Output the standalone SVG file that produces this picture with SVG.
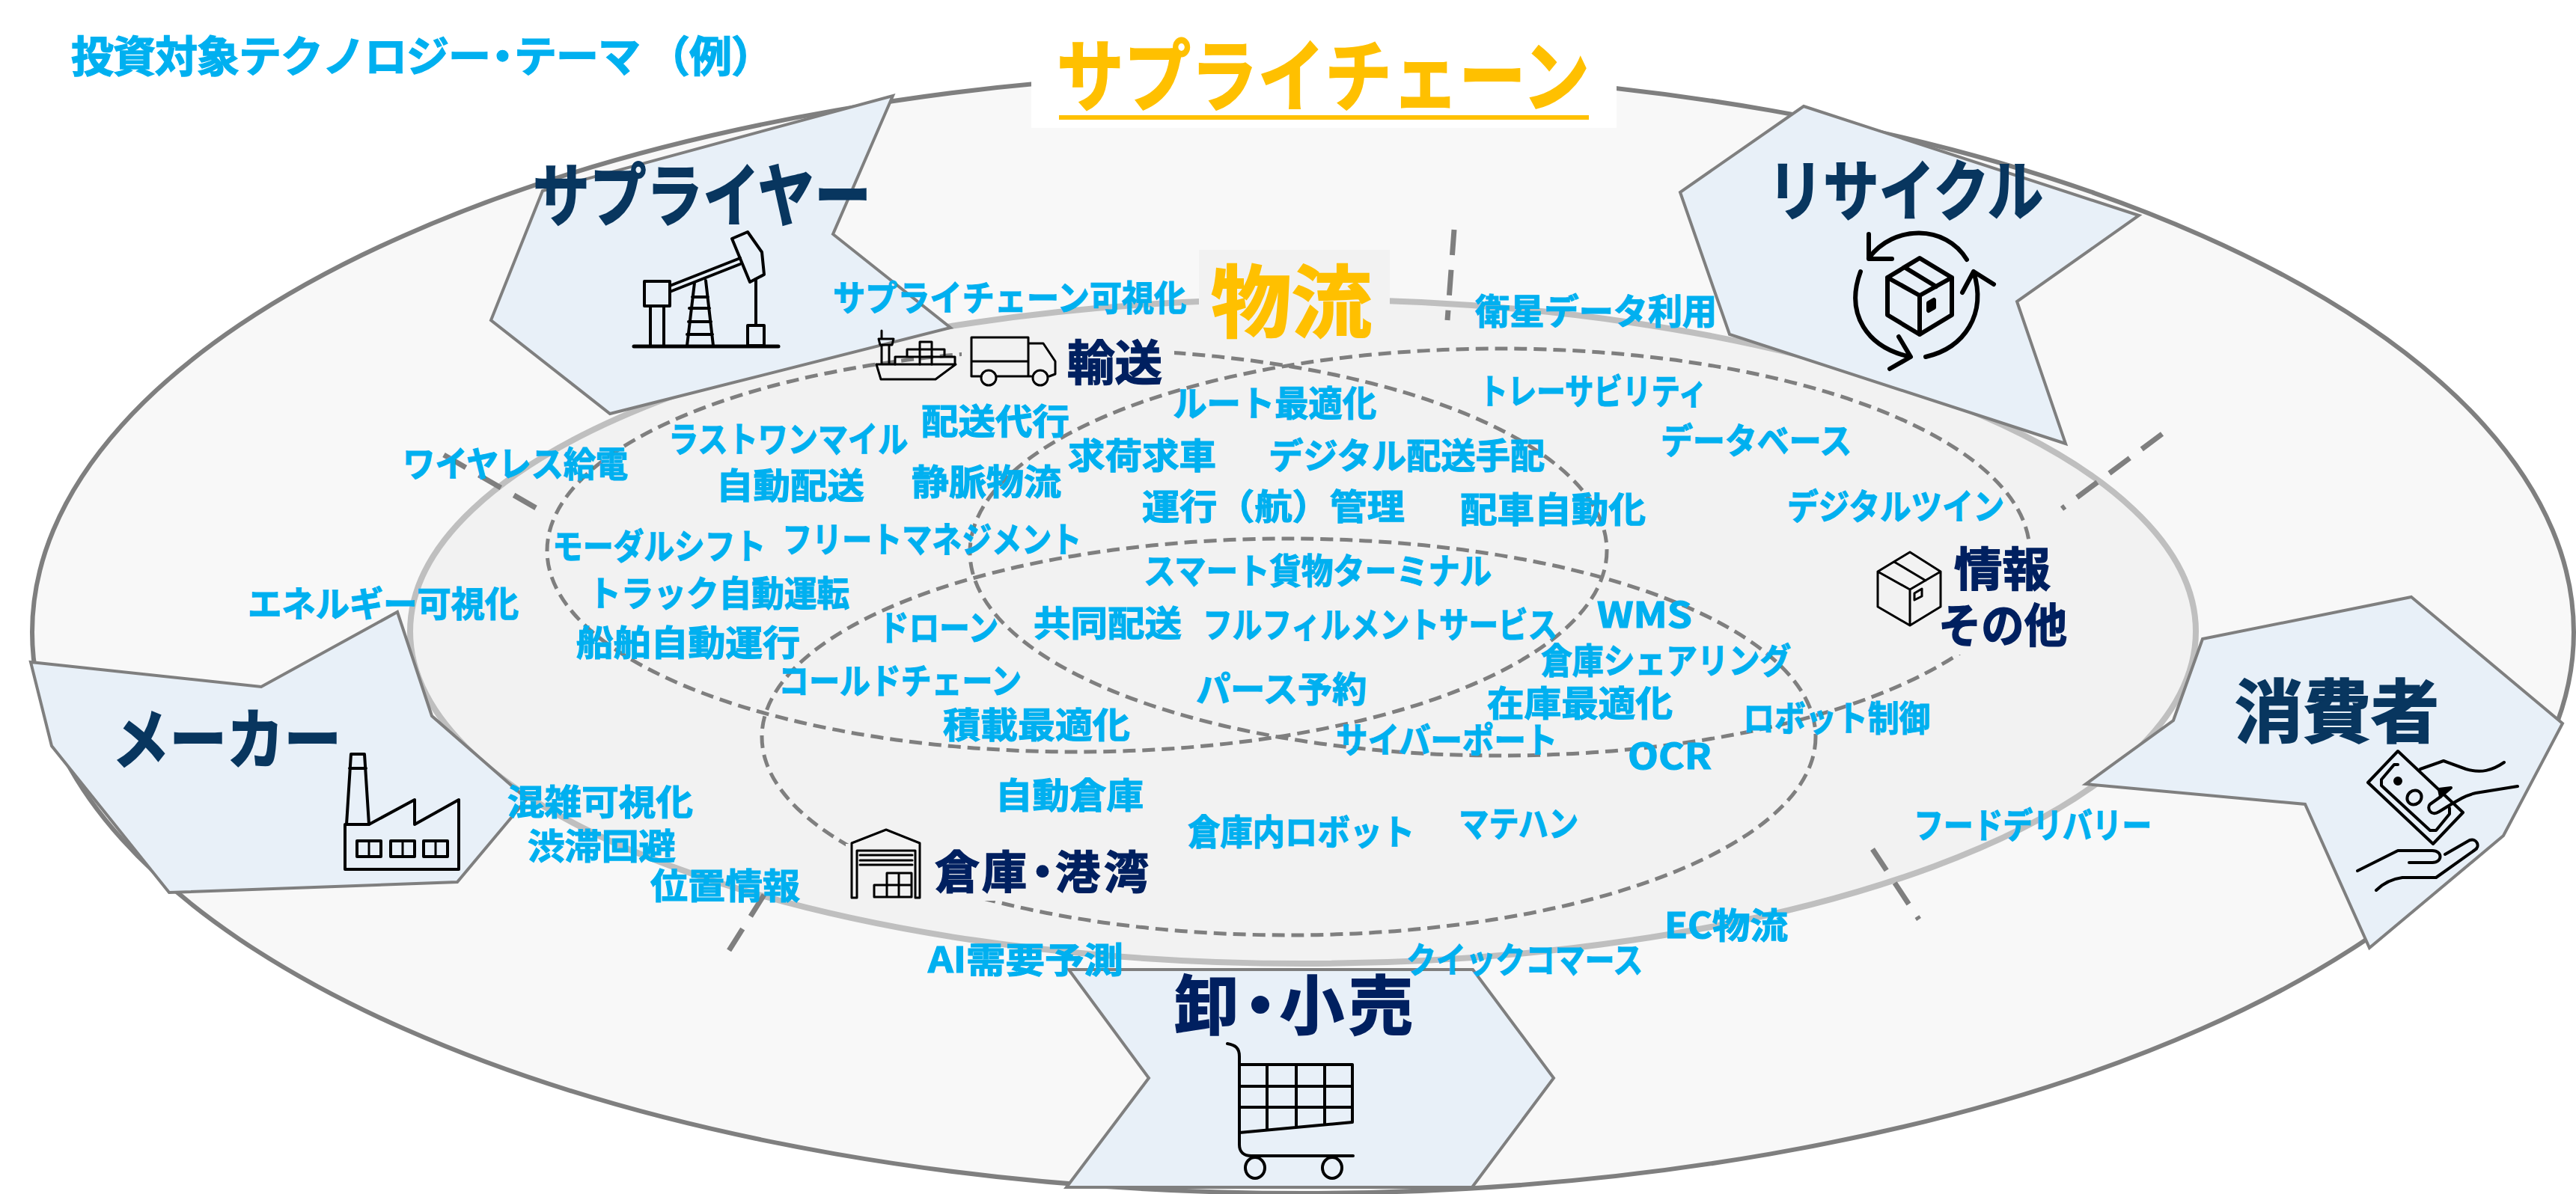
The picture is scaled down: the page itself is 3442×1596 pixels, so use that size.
<svg xmlns="http://www.w3.org/2000/svg" width="3442" height="1596" viewBox="0 0 3442 1596">
<style>
text{font-family:"Noto Sans CJK JP","Liberation Sans",sans-serif;font-weight:700}
.t{fill:#00b0f0;font-size:47px;stroke:#00b0f0;stroke-width:1.2px}
.h{fill:#08365f;font-size:88px;stroke:#08365f;stroke-width:2px}
.n{fill:#002060;font-size:62px;stroke:#002060;stroke-width:1.5px}
.y{fill:#ffc000;font-size:105px;stroke:#ffc000;stroke-width:2px}
.tab{fill:#e8f0f8;stroke:#7f7f7f;stroke-width:4;stroke-linejoin:miter}
.d{fill:none;stroke:#7f7f7f;stroke-width:5;stroke-dasharray:17 9}
.tick{fill:none;stroke:#7f7f7f;stroke-width:7;stroke-dasharray:34 20}
.i{fill:none;stroke:#000;stroke-width:4;stroke-linecap:round;stroke-linejoin:round}
.i2{fill:none;stroke:#000;stroke-width:6;stroke-linecap:round;stroke-linejoin:round}
</style>
<rect width="3442" height="1596" fill="#fff"/>
<ellipse id="outer" cx="1741" cy="845" rx="1698" ry="750" fill="#f8f8f8" stroke="#7f7f7f" stroke-width="6"/>
<ellipse id="inner" cx="1741" cy="844" rx="1193" ry="444" fill="#f2f2f2" stroke="#bfbfbf" stroke-width="8"/>
<rect id="title-bg" x="1378" y="44" width="782" height="127" fill="#fff"/>

<g id="node-supplier"><polygon class="tab" points="1193,128 1113,313 1270,438 815,553 656,428 725,255"/></g>
<g id="node-maker"><polygon class="tab" points="41,885 349,918 531,818 577,957 704,1068 611,1179 226,1193 69,997"/></g>
<g id="node-retail"><polygon class="tab" points="1428,1296 1968,1296 2076,1441 1967,1587 1425,1587 1535,1441"/></g>
<g id="node-recycle"><polygon class="tab" points="2410,142 2858,288 2695,403 2760,593 2311,447 2245,257"/></g>
<g id="node-consumer"><polygon class="tab" points="3222,798 3424,967 3345,1117 3166,1267 3080,1075 2787,1048 2904,963 2943,854"/></g>

<g id="zones">
<ellipse class="d" cx="1439" cy="736" rx="708" ry="269"/>
<ellipse class="d" cx="2004" cy="738" rx="708" ry="272"/>
<ellipse class="d" cx="1722" cy="985" rx="704" ry="265"/>
<rect x="1285" y="445" width="284" height="72" fill="#f2f2f2"/>
<rect x="2590" y="725" width="175" height="150" fill="#f2f2f2"/>
<rect x="1130" y="1128" width="412" height="76" fill="#f2f2f2"/>
<rect id="logistics-bg" x="1602" y="334" width="255" height="120" fill="#f2f2f2"/>
</g>

<g id="connectors">
<path class="tick" d="M1943 307L1934 428"/>
<path class="tick" d="M2889 580L2755 680"/>
<path class="tick" d="M2502 1135L2564 1229"/>
<path class="tick" d="M1021 1196L970 1277"/>
<path class="tick" d="M593 608L718 680"/>
</g>

<g id="title"><text class="y" x="1412" y="140" textLength="712" lengthAdjust="spacingAndGlyphs">サプライチェーン</text><rect x="1415" y="154" width="708" height="6" fill="#ffc000"/></g>
<g id="legend"><text x="95 151 207 263 319 375 431 487 543 599 643 687 743 799 865 921 977" y="96" font-size="57" fill="#00b0f0" stroke="#00b0f0" stroke-width="1.4">投資対象テクノロジー・テーマ（例）</text></g>
<g id="logistics"><text class="y" x="1618" y="442" textLength="215" lengthAdjust="spacingAndGlyphs">物流</text></g>

<g id="supplier-content">
<text class="h" x="712" y="295" textLength="452" lengthAdjust="spacingAndGlyphs" style="font-size:92px">サプライヤー</text>
<g class="i">
<path d="M847 463H1040" stroke-width="5"/>
<rect x="861" y="376" width="34" height="33"/>
<path d="M869 409V463M887 409V463M895 382L989 345M895 390L989 353M918 462L928 378M953 462L943 375M925 397H946M921 412H948M920 430H950M918 447H952M1010 373V435"/>
<path d="M978 319L999 310L1018 337L1021 367L1002 377Z"/>
<rect x="999" y="435" width="22" height="27"/>
</g></g>

<g id="maker-content">
<text class="h" x="150" y="1020" textLength="306" lengthAdjust="spacingAndGlyphs">メーカー</text>
<g class="i">
<path d="M461 1162V1102H493L554 1069V1102L613 1069V1162Z"/>
<path d="M463 1102L469 1008H487L493 1102M467 1027H489"/>
<rect x="477" y="1124" width="32" height="21"/><rect x="522" y="1124" width="32" height="21"/><rect x="566" y="1124" width="32" height="21"/>
<path d="M493 1124V1145M538 1124V1145M582 1124V1145" stroke-width="3"/>
</g></g>

<g id="retail-content">
<text class="n" x="1569 1641 1710 1802" y="1376" style="font-size:86px;stroke-width:2px">卸・小売</text>
<g class="i">
<path d="M1640 1395C1650 1397 1656 1400 1656 1412V1530C1656 1540 1662 1545 1672 1545H1808"/>
<path d="M1656 1423H1807V1500L1656 1514M1656 1452H1807M1656 1480H1807M1693 1423V1510M1732 1423V1507M1770 1423V1503"/>
<ellipse cx="1677" cy="1561" rx="13" ry="14"/><ellipse cx="1780" cy="1561" rx="13" ry="14"/>
</g></g>

<g id="recycle-content">
<text class="h" x="2362" y="287" textLength="368" lengthAdjust="spacingAndGlyphs">リサイクル</text>
<g class="i2">
<path d="M2565 345L2522 371L2565 395L2608 371ZM2522 371V421L2565 447L2608 421V371M2565 395V447M2546 358L2587 383"/>
<path d="M2577 405L2584 401V411L2577 415Z" fill="#000"/>
<path d="M2628 347C2600 300 2530 300 2497 345M2497 313V346H2528"/>
<path d="M2486 363C2465 420 2495 465 2553 477M2537 450L2553 477L2525 493"/>
<path d="M2573 477C2625 465 2655 420 2637 363M2622 391L2637 363L2664 380"/>
</g></g>

<g id="consumer-content">
<text class="h" x="2986" y="985" style="font-size:92px" textLength="273" lengthAdjust="spacingAndGlyphs">消費者</text>
<g class="i">
<path d="M3204 1004L3164 1046L3251 1128L3291 1086Z"/>
<path d="M3204 1022H3199L3182 1042V1050L3247 1110H3255L3273 1088V1080"/>
<ellipse cx="3226" cy="1066" rx="10" ry="9" transform="rotate(-40 3226 1066)"/>
<circle cx="3204" cy="1044" r="4" fill="#000"/>
<path d="M3234 1028L3265 1017L3295 1028C3315 1034 3330 1030 3346 1019"/>
<path d="M3364 1051L3308 1060C3295 1063 3288 1067 3259 1085C3248 1092 3242 1080 3247 1075L3261 1065"/>
<path d="M3259 1055L3275 1053L3261 1065Z" fill="#000"/>
<path d="M3150 1164L3204 1137H3250C3264 1137 3264 1153 3250 1153H3219"/>
<path d="M3267 1142L3300 1123C3310 1120 3314 1132 3307 1136L3255 1173H3210C3195 1175 3185 1180 3175 1190"/>
</g></g>

<g id="transport">
<g class="i" style="stroke-width:3">
<path d="M1171 487H1277L1250 507H1177Z"/>
<path d="M1178 442V452M1174 453H1194L1192 461H1176ZM1178 462V486M1188 462V486"/>
<path d="M1196 487V477H1276V487M1212 477V467H1262V477M1229 467V457H1245V467M1229 467V487M1245 467V487"/>
<path d="M1298 502V451H1374V502M1298 483H1374M1332 503H1378M1374 459H1394L1410 483V500L1402 503"/>
<path d="M1298 503H1311"/>
<circle cx="1321" cy="505" r="10"/><circle cx="1390" cy="505" r="10"/>
</g>
<text class="n" x="1426" y="508" textLength="127" lengthAdjust="spacingAndGlyphs" style="font-size:64px">輸送</text>
</g>

<g id="info">
<g class="i" style="stroke-width:3">
<path d="M2552 738L2509 764L2552 788L2593 764ZM2509 764V811L2552 836L2593 811V764M2552 788V836M2531 751L2573 776"/>
<path d="M2558 793L2568 787V797L2558 802Z"/>
</g>
<text class="n" x="2611" y="784" textLength="129" lengthAdjust="spacingAndGlyphs">情報</text>
<text class="n" x="2590" y="859" textLength="172" lengthAdjust="spacingAndGlyphs">その他</text>
</g>

<g id="warehouse">
<g class="i" style="stroke-width:3">
<path d="M1138 1200V1127L1184 1109L1229 1127V1200H1223V1137H1145V1200Z"/>
<path d="M1149 1143H1219M1149 1150H1219M1149 1156H1219"/>
<path d="M1185 1183V1167H1218V1199H1168V1183H1218M1201 1167V1199M1185 1183V1199"/>
</g>
<text class="n" x="1249 1312 1363 1410 1475" y="1188" style="font-size:60px">倉庫・港湾</text>
</g>

<g id="themes" transform="translate(0,2)">
<text class="t" x="1113" y="413" textLength="472" lengthAdjust="spacingAndGlyphs">サプライチェーン可視化</text>
<text class="t" x="1971" y="431" textLength="323" lengthAdjust="spacingAndGlyphs">衛星データ利用</text>
<text class="t" x="1567" y="554" textLength="272" lengthAdjust="spacingAndGlyphs">ルート最適化</text>
<text class="t" x="1231" y="578" textLength="198" lengthAdjust="spacingAndGlyphs">配送代行</text>
<text class="t" x="1976" y="538" textLength="305" lengthAdjust="spacingAndGlyphs">トレーサビリティ</text>
<text class="t" x="2219" y="604" textLength="255" lengthAdjust="spacingAndGlyphs">データベース</text>
<text class="t" x="893" y="602" textLength="320" lengthAdjust="spacingAndGlyphs">ラストワンマイル</text>
<text class="t" x="1427" y="624" textLength="198" lengthAdjust="spacingAndGlyphs">求荷求車</text>
<text class="t" x="1695" y="624" textLength="369" lengthAdjust="spacingAndGlyphs">デジタル配送手配</text>
<text class="t" x="538" y="635" textLength="301" lengthAdjust="spacingAndGlyphs">ワイヤレス給電</text>
<text class="t" x="957" y="664" textLength="198" lengthAdjust="spacingAndGlyphs">自動配送</text>
<text class="t" x="1218" y="659" textLength="200" lengthAdjust="spacingAndGlyphs">静脈物流</text>
<text class="t" x="1526" y="692" textLength="351" lengthAdjust="spacingAndGlyphs">運行（航）管理</text>
<text class="t" x="1951" y="696" textLength="248" lengthAdjust="spacingAndGlyphs">配車自動化</text>
<text class="t" x="2388" y="692" textLength="290" lengthAdjust="spacingAndGlyphs">デジタルツイン</text>
<text class="t" x="738" y="745" textLength="285" lengthAdjust="spacingAndGlyphs">モーダルシフト</text>
<text class="t" x="1045" y="736" textLength="400" lengthAdjust="spacingAndGlyphs">フリートマネジメント</text>
<text class="t" x="1528" y="778" textLength="465" lengthAdjust="spacingAndGlyphs">スマート貨物ターミナル</text>
<text class="t" x="786" y="808" textLength="349" lengthAdjust="spacingAndGlyphs">トラック自動運転</text>
<text class="t" x="331" y="822" textLength="362" lengthAdjust="spacingAndGlyphs">エネルギー可視化</text>
<text class="t" x="1174" y="854" textLength="160" lengthAdjust="spacingAndGlyphs">ドローン</text>
<text class="t" x="1381" y="848" textLength="198" lengthAdjust="spacingAndGlyphs">共同配送</text>
<text class="t" x="1607" y="850" textLength="474" lengthAdjust="spacingAndGlyphs">フルフィルメントサービス</text>
<text class="t" x="2134" y="837" textLength="127" lengthAdjust="spacingAndGlyphs">WMS</text>
<text class="t" x="770" y="874" textLength="299" lengthAdjust="spacingAndGlyphs">船舶自動運行</text>
<text class="t" x="2059" y="898" textLength="334" lengthAdjust="spacingAndGlyphs">倉庫シェアリング</text>
<text class="t" x="1040" y="925" textLength="325" lengthAdjust="spacingAndGlyphs">コールドチェーン</text>
<text class="t" x="1598" y="936" textLength="228" lengthAdjust="spacingAndGlyphs">パース予約</text>
<text class="t" x="1987" y="955" textLength="248" lengthAdjust="spacingAndGlyphs">在庫最適化</text>
<text class="t" x="2329" y="975" textLength="250" lengthAdjust="spacingAndGlyphs">ロボット制御</text>
<text class="t" x="1260" y="984" textLength="250" lengthAdjust="spacingAndGlyphs">積載最適化</text>
<text class="t" x="1785" y="1004" textLength="296" lengthAdjust="spacingAndGlyphs">サイバーポート</text>
<text class="t" x="2175" y="1026" textLength="112" lengthAdjust="spacingAndGlyphs">OCR</text>
<text class="t" x="678" y="1087" textLength="248" lengthAdjust="spacingAndGlyphs">混雑可視化</text>
<text class="t" x="1330" y="1078" textLength="198" lengthAdjust="spacingAndGlyphs">自動倉庫</text>
<text class="t" x="1949" y="1116" textLength="160" lengthAdjust="spacingAndGlyphs">マテハン</text>
<text class="t" x="2557" y="1118" textLength="318" lengthAdjust="spacingAndGlyphs">フードデリバリー</text>
<text class="t" x="1587" y="1127" textLength="303" lengthAdjust="spacingAndGlyphs">倉庫内ロボット</text>
<text class="t" x="705" y="1146" textLength="198" lengthAdjust="spacingAndGlyphs">渋滞回避</text>
<text class="t" x="869" y="1199" textLength="200" lengthAdjust="spacingAndGlyphs">位置情報</text>
<text class="t" x="2224" y="1252" textLength="165" lengthAdjust="spacingAndGlyphs">EC物流</text>
<text class="t" x="1240" y="1298" textLength="261" lengthAdjust="spacingAndGlyphs">AI需要予測</text>
<text class="t" x="1879" y="1298" textLength="316" lengthAdjust="spacingAndGlyphs">クイックコマース</text>
</g>
</svg>
